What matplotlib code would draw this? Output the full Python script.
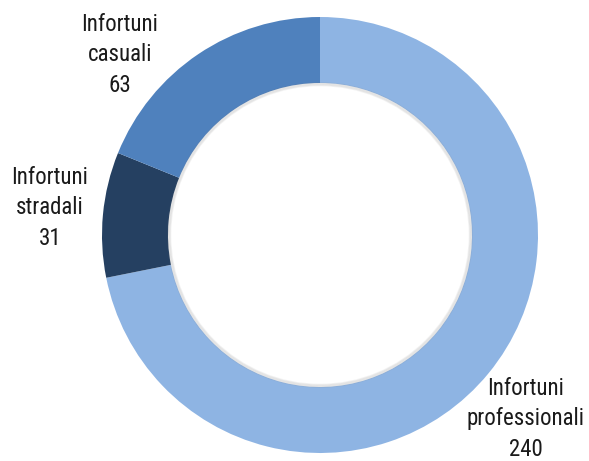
import matplotlib.pyplot as plt

# Data
labels = ['Infortuni\nprofessionali', 'Infortuni\nstradali', 'Infortuni\ncasuali']
values = [240, 31, 63]
colors = ['#8EB4E3', '#254061', '#4F81BD']

# label anchor positions (pixels, origin bottom-left)
label_pos = [(526, 42), (50, 253), (120, 406)]

fig = plt.figure(figsize=(5.89, 4.61), dpi=100)
ax = fig.add_axes([0, 0, 1, 1])

outer = 218
ring = 66
ax.pie(values, colors=colors, startangle=90, counterclock=False,
       center=(320, 226), radius=outer, frame=True,
       wedgeprops=dict(width=ring, edgecolor='none'))

# soft shadow on the inner edge
for i in range(4):
    c = plt.Circle((320, 226), outer - ring - i * 0.8, fill=False,
                   edgecolor='#7f7f7f', lw=1.2, alpha=0.10)
    ax.add_patch(c)

for lab, v, (x, y) in zip(labels, values, label_pos):
    ax.text(x, y, f'{lab}\n{v}', ha='center', va='center', fontsize=16.5,
            family=['Roboto Condensed', 'PT Sans Narrow', 'DejaVu Sans'],
            color='#1a1a1a', linespacing=1.4)

ax.set_xlim(0, 589)
ax.set_ylim(0, 461)
ax.axis('off')
fig.savefig('out.png', dpi=100)
